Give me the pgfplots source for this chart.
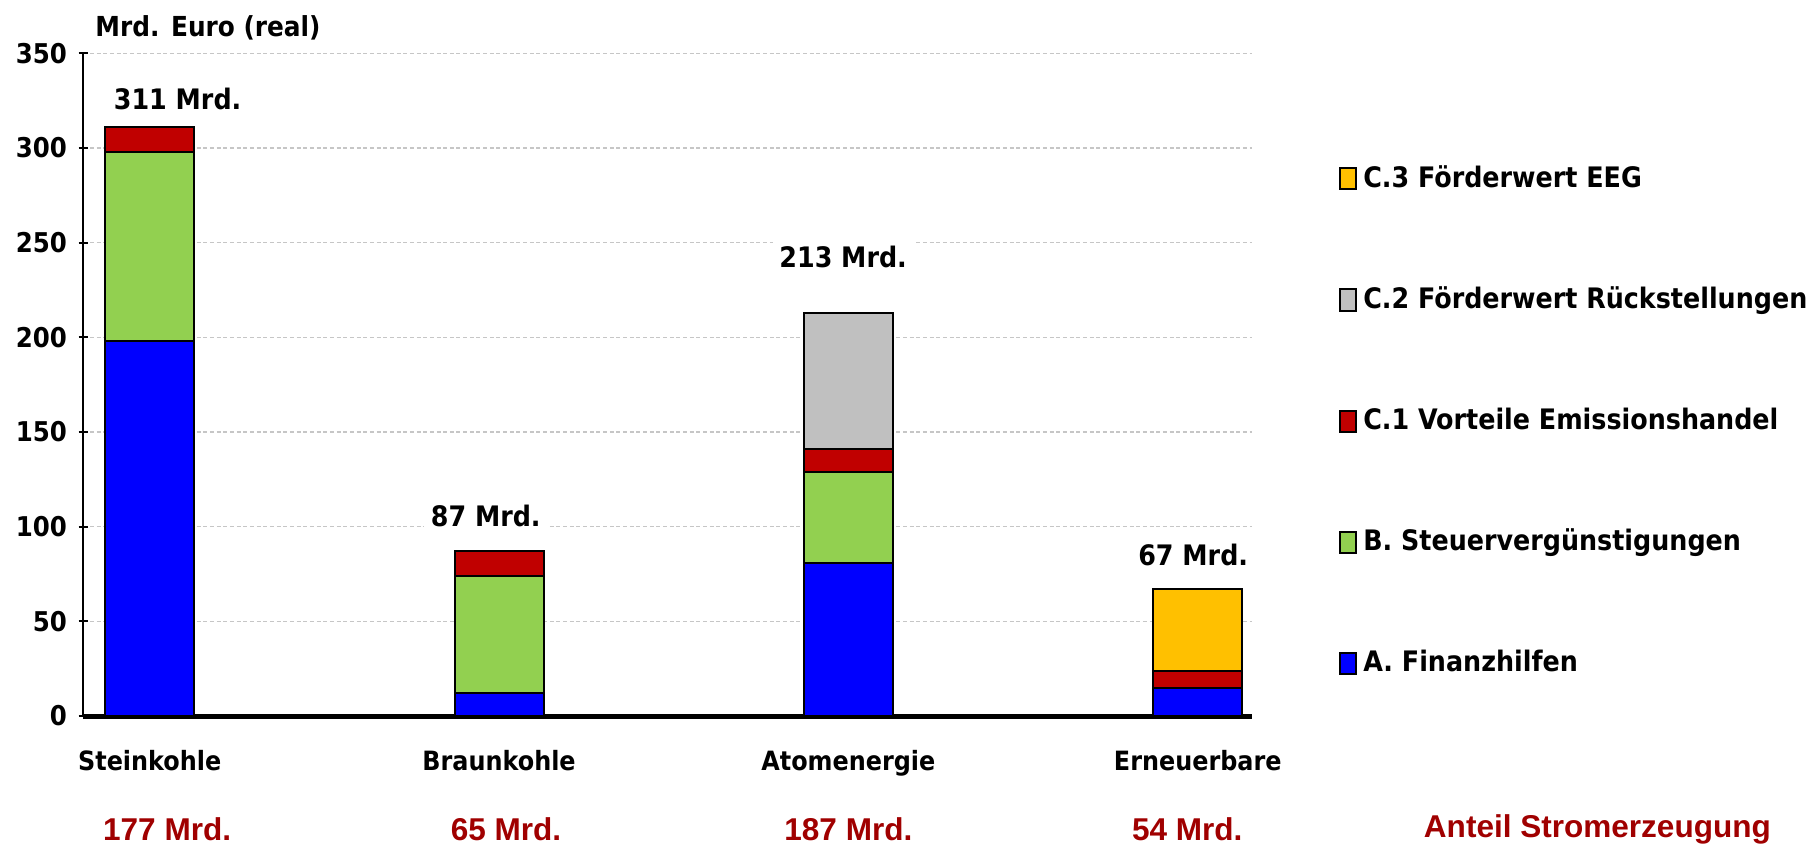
\documentclass[border=0pt]{standalone}
\usepackage{pgfplots}
\pgfplotsset{compat=1.18}
\usepackage{fontspec}
\setmainfont{DejaVu Sans Condensed}
\newfontfamily\arialfont{Liberation Sans}
\definecolor{cBlue}{RGB}{0,0,255}
\definecolor{cGreen}{RGB}{146,208,80}
\definecolor{cRed}{RGB}{192,0,0}
\definecolor{cGray}{RGB}{192,192,192}
\definecolor{cYellow}{RGB}{255,192,0}
\definecolor{cLabel}{RGB}{160,0,0}
\begin{document}
\begin{tikzpicture}[font=\fontsize{8}{9.6}\selectfont\bfseries,
  tot/.style={fill=white, inner sep=2bp, font=\fontsize{8.5}{10}\selectfont\bfseries},
  share/.style={text=cLabel, font=\arialfont\fontsize{9.5}{11}\selectfont\bfseries}]
\begin{axis}[
    scale only axis,
    width=350.6bp, height=198.9bp,
    ybar stacked,
    bar width=26.7bp,
    xmin=-0.19, xmax=3.154,
    ymin=0, ymax=350,
    ytick={0,50,...,350},
    xtick=data,
    xticklabels={Steinkohle,Braunkohle,Atomenergie,Erneuerbare},
    x tick style={draw=none},
    xticklabel style={yshift=-5.5bp},
    y tick style={black, line width=0.6bp},
    tick align=outside,
    major tick length=2.8bp,
    yticklabel style={font=\fontsize{8.2}{9.6}\selectfont\bfseries},
    /pgf/number format/assume math mode=true,
    axis x line=bottom, axis y line=left,
    x axis line style={-, line width=1.5bp},
    y axis line style={-, line width=0.6bp},
    ymajorgrids,
    grid style={gray!45, line width=0.4bp, dash pattern=on 1.2bp off 0.8bp},
    clip=false,
    every axis plot/.append style={draw=black, line width=0.6bp},
    reverse legend,
    legend cell align=left,
    legend style={draw=none, fill=none, at={(1.074,0.842)}, anchor=north west,
      row sep=24.4bp, inner sep=0pt, font=\fontsize{8.5}{10}\selectfont\bfseries},
    legend image code/.code={\draw[#1, line width=0.6bp] (0bp,-3.2bp) rectangle (4.8bp,3.2bp);},
]
\addplot[fill=cBlue] coordinates {(0,198) (1,12) (2,81) (3,15)};
\addplot[fill=cGreen] coordinates {(0,100) (1,62) (2,48) (3,0)};
\addplot[fill=cRed] coordinates {(0,13) (1,13) (2,12) (3,9)};
\addplot[fill=cGray] coordinates {(0,0) (1,0) (2,72) (3,0)};
\addplot[fill=cYellow] coordinates {(0,0) (1,0) (2,0) (3,43)};
\legend{A. Finanzhilfen, B. Steuervergünstigungen, C.1 Vorteile Emissionshandel, C.2 Förderwert Rückstellungen, C.3 Förderwert EEG}

\node[tot] at (axis cs:0.08,326) {311 Mrd.};
\node[tot] at (axis cs:0.962,105.7) {87 Mrd.};
\node[tot] at (axis cs:1.985,242.5) {213 Mrd.};
\node[tot] at (axis cs:2.987,85) {67 Mrd.};

\node[anchor=west, inner sep=0pt, font=\fontsize{8.3}{10}\selectfont\bfseries] at (axis cs:-0.157,363.5) {Mrd. Euro (real)};

\node[share] at (axis cs:0.05,-60) {177 Mrd.};
\node[share] at (axis cs:1.02,-60) {65 Mrd.};
\node[share] at (axis cs:2.0,-60) {187 Mrd.};
\node[share] at (axis cs:2.97,-60) {54 Mrd.};
\node[share] at (axis cs:4.144,-60) {Anteil Stromerzeugung};
\end{axis}
\path[use as bounding box] (-25bp,-38.2bp) rectangle (519.3bp,214.9bp);
\end{tikzpicture}
\end{document}
